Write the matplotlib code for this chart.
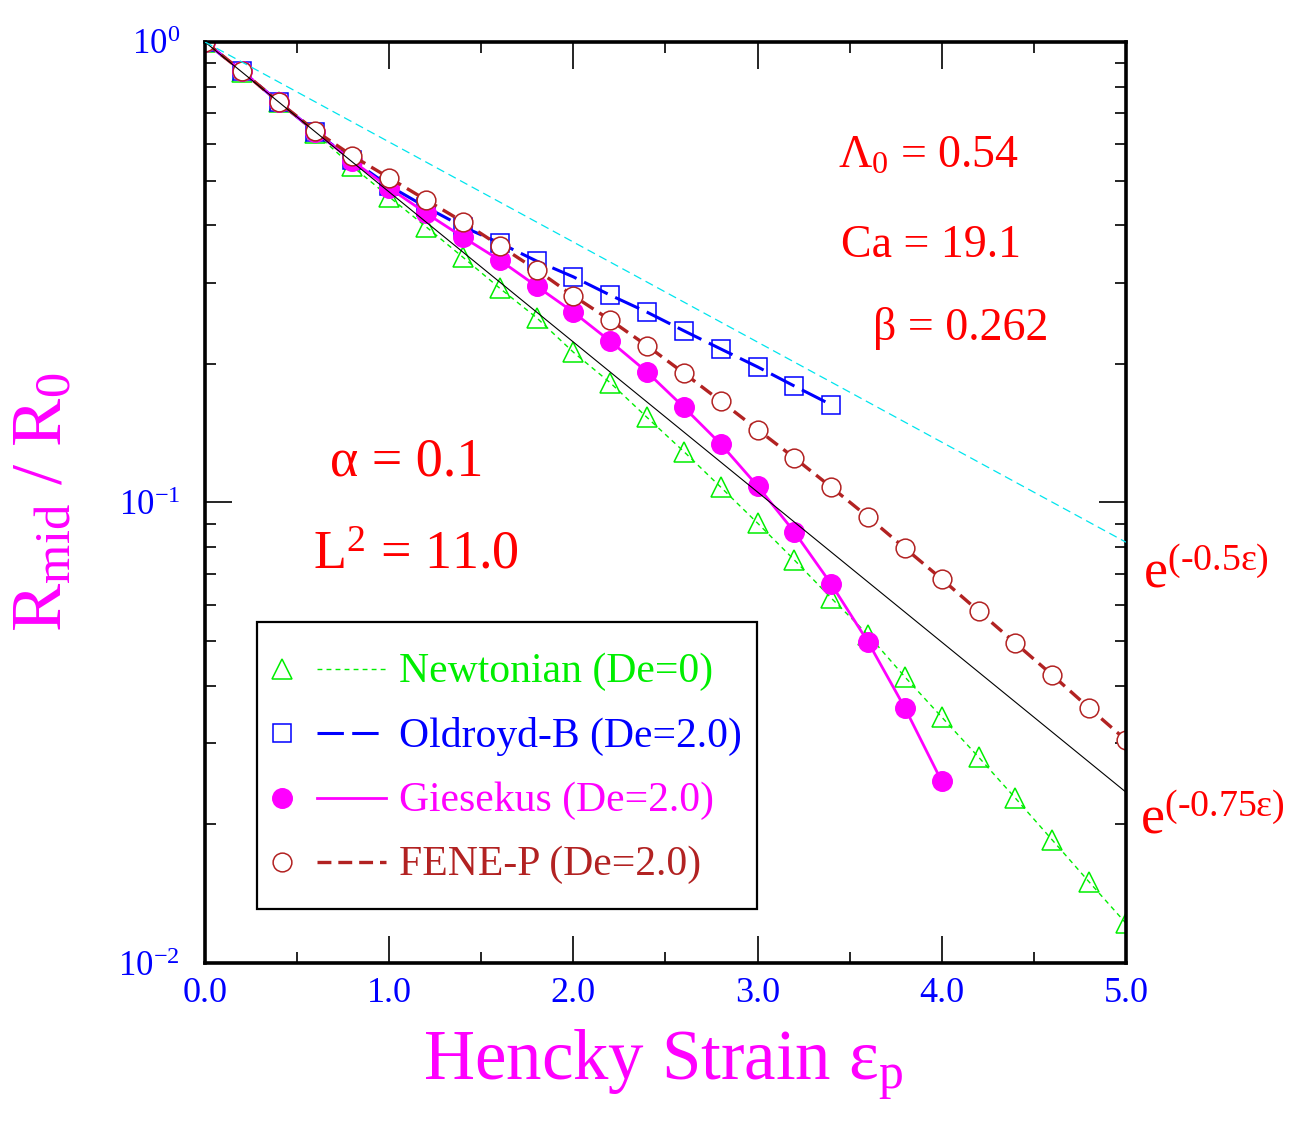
import matplotlib
matplotlib.use('Agg')
import matplotlib.pyplot as plt
from matplotlib.ticker import MultipleLocator, FormatStrFormatter, LogLocator, NullFormatter
from matplotlib.legend_handler import HandlerBase
from matplotlib.lines import Line2D

plt.rcParams['font.family'] = ['Liberation Serif', 'DejaVu Serif']
plt.rcParams['mathtext.fontset'] = 'custom'
plt.rcParams['mathtext.rm'] = 'Liberation Serif'
plt.rcParams['mathtext.it'] = 'Liberation Serif:italic'
plt.rcParams['mathtext.bf'] = 'Liberation Serif:bold'
plt.rcParams['mathtext.default'] = 'regular'
plt.rcParams['axes.unicode_minus'] = False
plt.rcParams['lines.scale_dashes'] = False

# ---- data (Hencky strain vs R_mid/R_0) ----
strain = [0.0, 0.2, 0.4, 0.6, 0.8, 1.0, 1.2, 1.4, 1.6, 1.8, 2.0, 2.2, 2.4,
          2.6, 2.8, 3.0, 3.2, 3.4, 3.6, 3.8, 4.0, 4.2, 4.4, 4.6, 4.8, 5.0]

newtonian = [1.0, 0.862, 0.742, 0.634, 0.537, 0.461, 0.397, 0.341, 0.292,
             0.252, 0.212, 0.182, 0.153, 0.129, 0.108, 0.0902, 0.0750, 0.0620,
             0.0516, 0.0418, 0.0342, 0.0280, 0.0228, 0.0185, 0.0150, 0.0122]

oldroyd = [1.0, 0.865, 0.741, 0.638, 0.554, 0.487, 0.438, 0.397, 0.366,
           0.3345, 0.309, 0.282, 0.259, 0.236, 0.2155, 0.197, 0.179, 0.163]

giesekus = [1.0, 0.865, 0.741, 0.638, 0.552, 0.482, 0.425, 0.377, 0.336,
            0.295, 0.259, 0.224, 0.192, 0.161, 0.134, 0.1086, 0.0863, 0.0665,
            0.0498, 0.0358, 0.0248]

fenep = [1.0, 0.865, 0.741, 0.641, 0.566, 0.507, 0.454, 0.407, 0.361, 0.320,
         0.281, 0.249, 0.219, 0.191, 0.166, 0.144, 0.125, 0.108, 0.093,
         0.0796, 0.0682, 0.0581, 0.0495, 0.0422, 0.0358, 0.0305]

# reference exponentials, end points
ref_x = [0.0, 5.0]
ref_075 = [1.0, 0.0235]
ref_05 = [1.0, 0.082]

labels = ['Newtonian (De=0)', 'Oldroyd-B (De=2.0)', 'Giesekus (De=2.0)', 'FENE-P (De=2.0)']
colors = ['#00ee00', '#0000ff', '#ff00ff', '#b22222']


class MarkerThenLine(HandlerBase):
    # symbol on the left, line sample to the right of it (grace style)
    def create_artists(self, legend, orig_handle, xdescent, ydescent,
                       width, height, fontsize, trans):
        y = height / 2 - ydescent
        mark = Line2D([0.09 * width - xdescent], [y])
        mark.update_from(orig_handle)
        mark.set_linestyle('none')
        seg = Line2D([0.395 * width - xdescent, width - xdescent], [y, y])
        seg.update_from(orig_handle)
        seg.set_marker('')
        mark.set_transform(trans)
        seg.set_transform(trans)
        return [seg, mark]


fig = plt.figure(figsize=(13.03, 11.22), dpi=100)
ax = fig.add_axes([0.1573, 0.1417, 0.7068, 0.8209])

h1, = ax.plot(strain[:len(newtonian)], newtonian, color=colors[0], lw=1.0,
              dashes=(3.5, 3), marker='^', ms=14, mfc='none', mec=colors[0], mew=1.1)
h2, = ax.plot(strain[:len(oldroyd)], oldroyd, color=colors[1], lw=2.2,
              dashes=(19, 6), marker='s', ms=13.5, mfc='none', mec=colors[1], mew=1.1)
h3, = ax.plot(strain[:len(giesekus)], giesekus, color=colors[2], lw=2.0,
              ls='-', marker='o', ms=14, mfc=colors[2], mec=colors[2], mew=1.1)
h4, = ax.plot(strain[:len(fenep)], fenep, color=colors[3], lw=2.4,
              dashes=(10, 5), marker='o', ms=13.5, mfc='white', mec=colors[3], mew=1.1)

ax.plot(ref_x, ref_075, color='black', lw=0.8, zorder=5)
ax.plot(ref_x, ref_05, color='#00e5ee', lw=0.9, dashes=(6, 3.5), zorder=5)

ax.set_yscale('log')
ax.set_xlim(0, 5)
ax.set_ylim(0.01, 1)

ax.xaxis.set_major_locator(MultipleLocator(1.0))
ax.xaxis.set_minor_locator(MultipleLocator(0.5))
ax.xaxis.set_major_formatter(FormatStrFormatter('%.1f'))
ax.yaxis.set_minor_locator(LogLocator(base=10, subs=range(2, 10)))
ax.yaxis.set_minor_formatter(NullFormatter())

ax.tick_params(which='both', direction='in', top=True, right=True, colors='black')
ax.tick_params(which='major', length=19.5, width=1.2)
ax.tick_params(which='minor', length=8, width=1.2)
ax.tick_params(axis='x', which='major', labelsize=26, labelcolor='#0000ff', pad=10)
ax.tick_params(axis='y', which='major', labelsize=25, labelcolor='#0000ff', pad=18)
for sp in ax.spines.values():
    sp.set_linewidth(2.6)

ax.set_xlabel('Hencky Strain $ε_p$', fontsize=51, color='#ff00ff')
ax.xaxis.label.set_verticalalignment('baseline')
ax.xaxis.set_label_coords(0.497, -0.127)
ax.set_ylabel('$R_{mid}$ / $R_0$', fontsize=52, color='#ff00ff')
ax.yaxis.label.set_verticalalignment('center')
ax.yaxis.set_label_coords(-0.175, 0.5)

red = '#ff0000'
ax.text(0.687, 0.863, '$Λ_0$ = 0.54', transform=ax.transAxes, fontsize=33, color=red, va='baseline')
ax.text(0.691, 0.7666, 'Ca = 19.1', transform=ax.transAxes, fontsize=33, color=red, va='baseline')
ax.text(0.725, 0.6764, 'β = 0.262', transform=ax.transAxes, fontsize=33, color=red, va='baseline')
ax.text(0.136, 0.5288, 'α = 0.1', transform=ax.transAxes, fontsize=39, color=red, va='baseline')
ax.text(0.117, 0.4278, '$L^2$ = 11.0', transform=ax.transAxes, fontsize=39, color=red, va='baseline')
ax.text(1.0185, 0.408, '$e^{(‐0.5ε)}$', transform=ax.transAxes, fontsize=39, color=red, va='baseline')
ax.text(1.0152, 0.141, '$e^{(‐0.75ε)}$', transform=ax.transAxes, fontsize=39, color=red, va='baseline')

leg = ax.legend(handles=[h1, h2, h3, h4], labels=labels,
                handler_map={Line2D: MarkerThenLine()},
                loc='upper left', bbox_to_anchor=(0.0565, 0.370), borderaxespad=0,
                fontsize=30, frameon=True, fancybox=False, edgecolor='black',
                framealpha=1, borderpad=0.35, handlelength=2.75, handleheight=2.0,
                handletextpad=0.32, labelspacing=0.0)
leg.get_frame().set_linewidth(1.6)
for t, c in zip(leg.get_texts(), colors):
    t.set_color(c)

fig.savefig('out.png', dpi=100)
